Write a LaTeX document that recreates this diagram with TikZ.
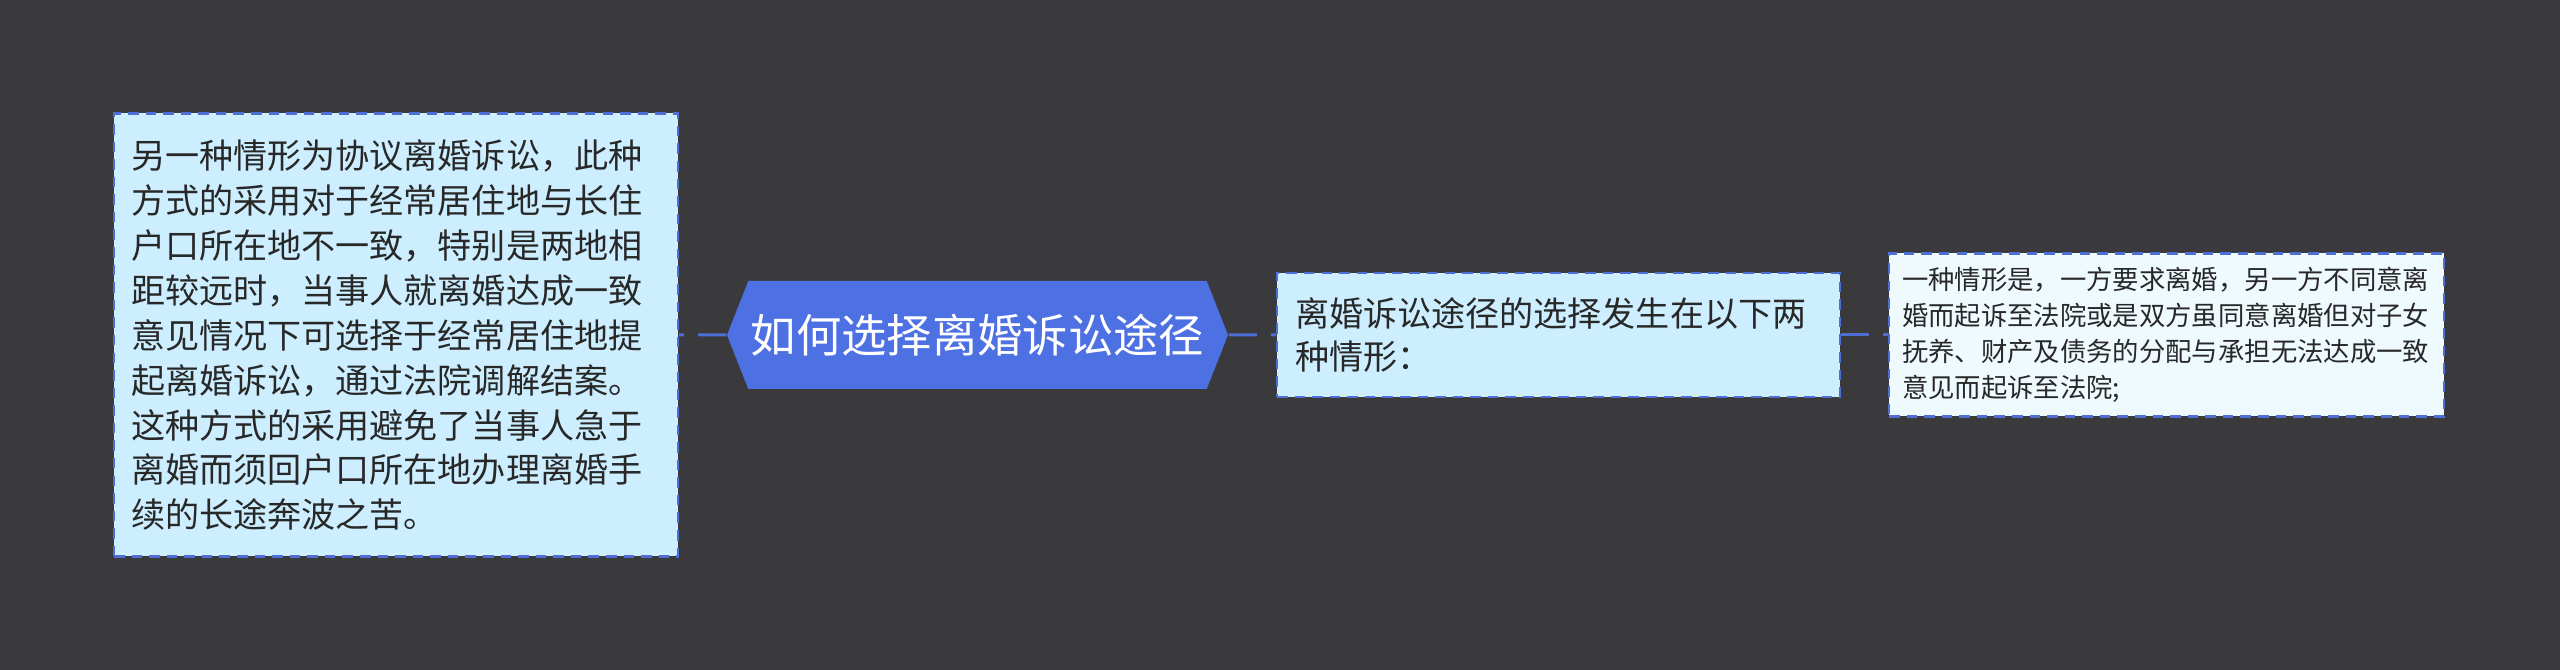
\documentclass[tikz,border=0pt]{standalone}
\usepackage{fontspec}
\setmainfont{Noto Sans CJK SC}
\usetikzlibrary{shapes.symbols}
\definecolor{bgdark}{RGB}{58,57,60}
\definecolor{hexblue}{RGB}{77,112,226}
\definecolor{lineblue}{RGB}{78,110,214}
\definecolor{boxblue}{RGB}{204,238,254}
\definecolor{boxpale}{RGB}{239,250,255}
\definecolor{textdark}{RGB}{40,40,40}
\tikzset{
  topic/.style={fill=hexblue, text=white, signal, signal to=west and east, signal pointer angle=137, minimum height=1.08cm, minimum width=5.01cm, inner sep=0pt, font=\fontsize{12.9pt}{14pt}\selectfont},
  sub/.style={draw=lineblue, line width=0.6pt, dash pattern=on 3pt off 2pt, fill=boxblue, text=textdark, align=left, inner ysep=0pt},
  link/.style={draw=lineblue, line width=0.85pt, dash pattern=on 8pt off 4pt},
}
\begin{document}
\begin{tikzpicture}

\useasboundingbox (0,0) rectangle (25.6,6.7);
\fill[bgdark] (0,0) rectangle (25.6,6.7);

\node[sub, text width=5.3cm, inner xsep=0.17cm, minimum height=4.43cm, font=\fontsize{9.7pt}{12.8pt}\selectfont] (v1) at (3.96,3.35) {另一种情形为协议离婚诉讼，此种\\方式的采用对于经常居住地与长住\\户口所在地不一致，特别是两地相\\距较远时，当事人就离婚达成一致\\意见情况下可选择于经常居住地提\\起离婚诉讼，通过法院调解结案。\\这种方式的采用避免了当事人急于\\离婚而须回户口所在地办理离婚手\\续的长途奔波之苦。};

\node[topic] (v2) at (9.775,3.35) {如何选择离婚诉讼途径};

\node[sub, text width=5.27cm, inner xsep=0.18cm, minimum height=1.24cm, font=\fontsize{9.7pt}{12.5pt}\selectfont] (v3) at (15.585,3.35) {离婚诉讼途径的选择发生在以下两\\种情形：};

\node[sub, fill=boxpale, text width=5.29cm, inner xsep=0.13cm, minimum height=1.63cm, font=\fontsize{7.5pt}{10.2pt}\selectfont] (v4) at (21.665,3.35) {一种情形是，一方要求离婚，另一方不同意离\\婚而起诉至法院或是双方虽同意离婚但对子女\\抚养、财产及债务的分配与承担无法达成一致\\意见而起诉至法院;};

\draw[link] (v2) edge (v1);
\draw[link] (v2) edge (v3);
\draw[link] (v3) edge (v4);
\end{tikzpicture}
\end{document}
